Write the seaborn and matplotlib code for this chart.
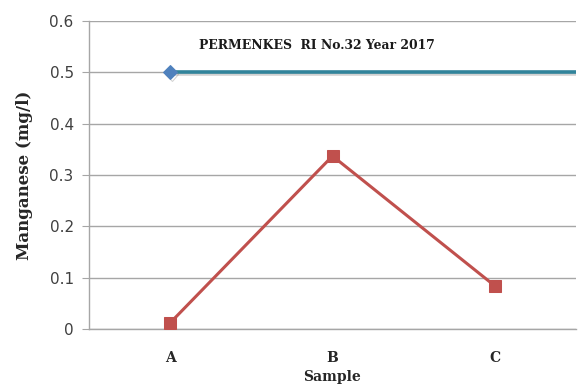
import matplotlib
matplotlib.use("Agg")
import matplotlib.pyplot as plt
import matplotlib.patheffects as pe
import seaborn as sns
import pandas as pd
import numpy as np

samples = ["A", "B", "C"]
manganese = [0.012, 0.337, 0.084]
standard_value = 0.5
standard_label = "PERMENKES  RI No.32 Year 2017"
y_ticks = [0, 0.1, 0.2, 0.3, 0.4, 0.5, 0.6]
y_tick_labels = ["0", "0.1", "0.2", "0.3", "0.4", "0.5", "0.6"]

sns.set_style("white")
plt.rcParams['font.family'] = ['DejaVu Sans']

fig = plt.figure(figsize=(5.78, 3.85), dpi=100)
ax = fig.add_axes([89/578, 56/385, 487/578, 308/385])

pos = np.arange(len(samples))
df = pd.DataFrame({"pos": pos, "Manganese": manganese})

# standard line from A extending to the right edge
std_x = [0, 2.6]
std_df = pd.DataFrame({"pos": std_x, "val": [standard_value] * len(std_x)})
sns.lineplot(data=std_df, x="pos", y="val", ax=ax, color="#31849B", lw=2.6,
             marker="D", markersize=7, markevery=[0], markerfacecolor="#4F81BD",
             markeredgecolor="#4F81BD", zorder=4, clip_on=True,
             path_effects=[pe.SimpleLineShadow(offset=(1, -1.5), alpha=0.35, shadow_color="gray"), pe.Normal()])

sns.lineplot(data=df, x="pos", y="Manganese", ax=ax, color="#C0504D", lw=2.2,
             marker="s", markersize=9, markerfacecolor="#C0504D",
             markeredgecolor="#C0504D", zorder=5)

ax.set_xlim(-0.5, 2.5)
ax.set_ylim(0, 0.6)
ax.set_yticks(y_ticks)
ax.set_yticklabels(y_tick_labels)
ax.set_xticks(pos)
ax.set_xticklabels(samples)

ax.grid(axis="y", color="#A6A6A6", lw=1)
ax.set_axisbelow(True)
for s in ["top", "right"]:
    ax.spines[s].set_visible(False)
ax.spines["left"].set_color("#A6A6A6")
ax.spines["bottom"].set_color("#A6A6A6")
ax.spines["left"].set_linewidth(1)
ax.spines["bottom"].set_linewidth(1)

ax.tick_params(axis="y", which="both", left=True, length=5, color="#A6A6A6",
               labelsize=11, labelcolor="#404040", pad=6)
ax.tick_params(axis="x", bottom=False, pad=12)
for lab in ax.get_xticklabels():
    lab.set_fontfamily("DejaVu Serif")
    lab.set_fontweight("bold")
    lab.set_fontsize(10)
    lab.set_color("#262626")

ax.set_xlabel("Sample", family="DejaVu Serif", fontweight="bold", fontsize=10,
              color="#262626", labelpad=4)
ax.set_ylabel("Manganese (mg/l)", family="DejaVu Serif", fontweight="bold",
              fontsize=12, color="#262626", labelpad=12)

ax.text(0.178, 0.553, standard_label, family="DejaVu Serif", fontweight="bold",
        fontsize=8.9, color="#1a1a1a", ha="left", va="center")

fig.savefig("out.png", dpi=100)
